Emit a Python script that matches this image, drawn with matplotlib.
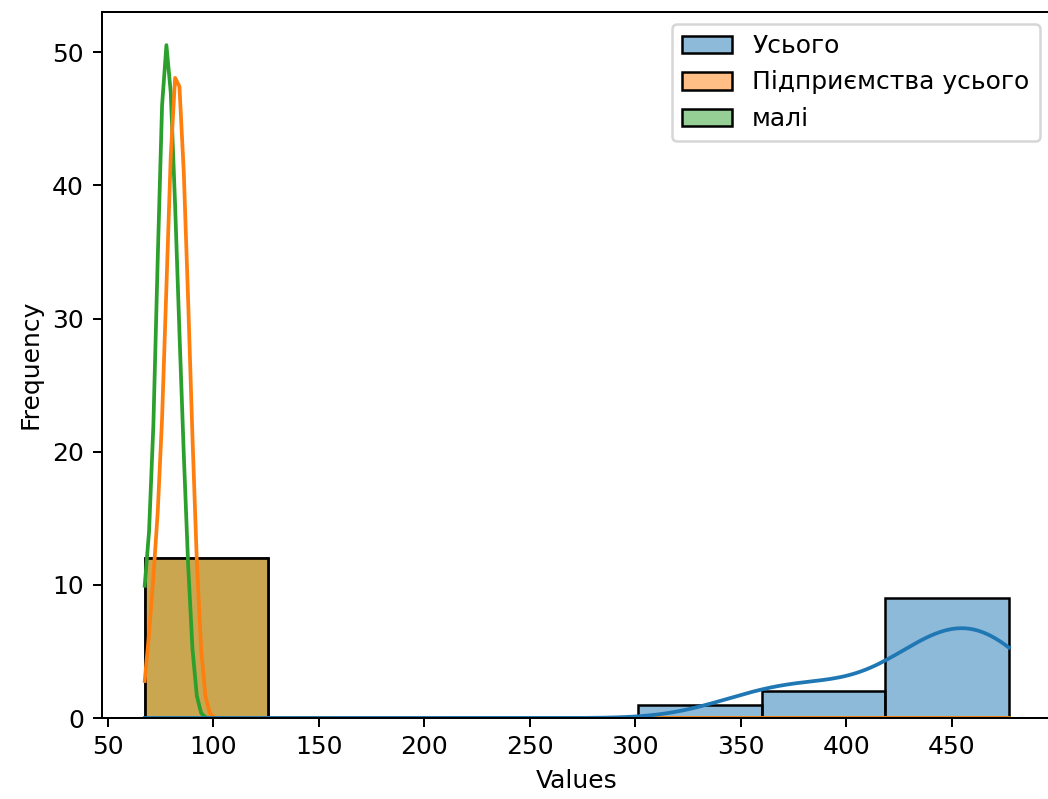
import pandas as pd
import seaborn as sns
import matplotlib.pyplot as plt

# values per column (12 observations each)
usoho = [352, 377, 390, 424, 432, 440, 448, 456, 463, 469, 474, 477]
pidpr = [72, 76.5, 78.5, 80, 81, 82, 83, 84, 85, 86.5, 88, 90.5]
mali = [67.5, 73, 75, 75.5, 76.5, 77.5, 78.5, 79.5, 80.5, 82, 84, 86.5]

df = pd.DataFrame({
    "Усього": usoho,
    "Підприємства усього": pidpr,
    "малі": mali,
})

fig = plt.figure(figsize=(1048 / 180, 799 / 180), dpi=180)
# the original picture is cropped on the right, so the axes run past the edge
ax = fig.add_axes([101.5 / 1048, 1 - 718 / 799, (1052 - 101.5) / 1048, (718 - 11.5) / 799])
sns.histplot(data=df, kde=True, ax=ax)
ax.set_xticks(range(50, 500, 50))
ax.set_xlabel("Values")
ax.set_ylabel("Frequency")
fig.savefig("out.png", dpi=180)
